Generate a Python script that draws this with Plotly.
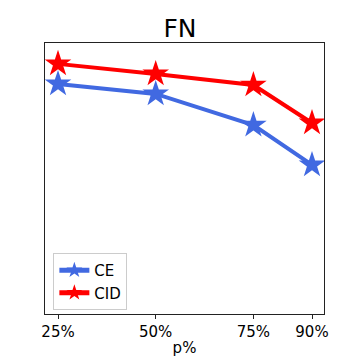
import plotly.graph_objects as go

p_values = [25, 50, 75, 90]
tick_labels = ["25%", "50%", "75%", "90%"]
ce_values = [0.849, 0.812, 0.697, 0.550]
cid_values = [0.923, 0.886, 0.845, 0.705]

fig = go.Figure()
fig.add_trace(go.Scatter(x=p_values, y=ce_values, name="CE", mode="lines+markers",
                         line=dict(color="#4169E1", width=4),
                         marker=dict(symbol="star", size=20, color="#4169E1", line=dict(width=0))))
fig.add_trace(go.Scatter(x=p_values, y=cid_values, name="CID", mode="lines+markers",
                         line=dict(color="#FF0000", width=4),
                         marker=dict(symbol="star", size=20, color="#FF0000", line=dict(width=0))))

font = "DejaVu Sans, sans-serif"
fig.update_layout(
    width=360, height=360,
    margin=dict(l=45, r=36, t=43, b=46, autoexpand=False),
    paper_bgcolor="white", plot_bgcolor="white",
    title=dict(text="FN", x=0.5, xanchor="center", y=0.922, yanchor="middle",
               font=dict(family=font, size=25, color="black")),
    font=dict(family=font, color="black"),
    xaxis=dict(range=[21.67, 93.07], tickvals=p_values, ticktext=tick_labels,
               showgrid=False, zeroline=False, showline=True, linecolor="#222", linewidth=1,
               mirror=True, ticks="outside", ticklen=4, tickcolor="#222", automargin=False,
               tickfont=dict(size=15, family=font),
               title=dict(text="p%", font=dict(size=15, family=font), standoff=2)),
    yaxis=dict(range=[0, 1], showticklabels=False, showgrid=False, zeroline=False, automargin=False,
               showline=True, linecolor="#222", linewidth=1, mirror=True, ticks=""),
    legend=dict(x=0.03, y=0.015, xanchor="left", yanchor="bottom",
                bgcolor="white", bordercolor="#ccc", borderwidth=1,
                font=dict(size=15, family=font), itemsizing="constant", tracegroupgap=0),
    showlegend=True,
)
fig.write_html("out.html", config={"displayModeBar": False},
               post_script="document.body.style.margin='0';document.body.style.overflow='hidden';")
